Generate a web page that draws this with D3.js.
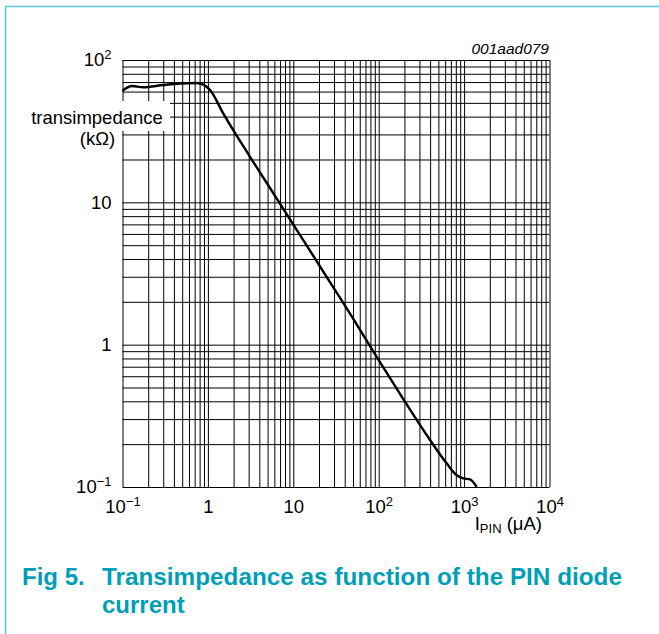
<!DOCTYPE html>
<html><head><meta charset="utf-8">
<script src="https://cdn.jsdelivr.net/npm/d3@7"></script>
<style>
body{margin:0;background:#fff}
svg{display:block}
text{font-family:"Liberation Sans",Arial,Helvetica,sans-serif}
</style>
</head><body>
<svg id="c" width="659" height="634"></svg>
<script>
// ---- data ----
const currentUA = [0.1, 0.129, 0.175, 0.3, 0.471, 0.74, 0.883, 1.06, 1.51, 3.11, 5, 9.15, 29.4, 50, 94.8, 194, 399, 625, 819, 979, 1172, 1405];
const transimpedanceKOhm = [60.8, 65.7, 64.3, 66.7, 68.4, 69, 67.2, 61.5, 42.2, 20.9, 13.4, 7.6, 2.53, 1.53, 0.82, 0.415, 0.214, 0.1466, 0.121, 0.115, 0.113, 0.1];
const xTickValues = [0.1, 1, 10, 100, 1000, 10000];
const xTickLabels = [["10", "−1"], ["1", ""], ["10", ""], ["10", "2"], ["10", "3"], ["10", "4"]];
const yTickValues = [0.1, 1, 10, 100];
const yTickLabels = [["10", "−1"], ["1", ""], ["10", ""], ["10", "2"]];
const xAxisTitle = ["I", "PIN", " (μA)"];
const yAxisTitle = ["transimpedance", "(kΩ)"];
const figCode = "001aad079";
const captionNum = "Fig 5.";
const captionLines = ["Transimpedance as function of the PIN diode", "current"];

// ---- layout ----
const svg = d3.select("#c");
const L = 122.5, R = 549.5, T = 60, B = 487;
const x = d3.scaleLog().domain([0.1, 10000]).range([L, R]);
const y = d3.scaleLog().domain([0.1, 100]).range([B, T]);

function logGrid(lo, hi) {
  const v = [];
  for (let d = Math.log10(lo); d < Math.log10(hi); d++)
    for (let m = 1; m <= 9; m++) v.push(m * Math.pow(10, d));
  v.push(hi);
  return v;
}

// frame border
svg.append("path").attr("d", "M5.5,634 V6.5 H659").attr("fill", "none")
  .attr("stroke", "#5cc7da").attr("stroke-width", 1.5);

// grids via axes
const gx = svg.append("g").attr("transform", `translate(0,${B})`)
  .call(d3.axisBottom(x).tickValues(logGrid(0.1, 10000)).tickSize(-(B - T)).tickFormat(""));
const gy = svg.append("g").attr("transform", `translate(${L},0)`)
  .call(d3.axisLeft(y).tickValues(logGrid(0.1, 100)).tickSize(-(R - L)).tickFormat(""));
[gx, gy].forEach(g => {
  g.select(".domain").remove();
  g.selectAll("line").attr("stroke", "#000").attr("stroke-width", 1);
});

// white box behind y title
svg.append("rect").attr("x", 26).attr("y", 101).attr("width", 144).attr("height", 30).attr("fill", "#fff");

// curve
const pts = currentUA.map((c, i) => [c, transimpedanceKOhm[i]]);
svg.append("path").datum(pts)
  .attr("fill", "none").attr("stroke", "#000").attr("stroke-width", 2.4)
  .attr("stroke-linejoin", "round").attr("stroke-linecap", "butt")
  .attr("d", d3.line().x(d => x(d[0])).y(d => y(d[1])).curve(d3.curveMonotoneX));

// tick label helper
function fillLabel(sel, labels) {
  sel.each(function(d, i) {
    const t = d3.select(this);
    t.text(null);
    const lab = labels[i];
    t.append("tspan").text(lab[0]);
    if (lab[1]) t.append("tspan").attr("dy", -7).attr("font-size", 13).text(lab[1]);
  });
}

const fs = 18.5;
const ax = svg.append("g").attr("transform", `translate(0,${B})`)
  .call(d3.axisBottom(x).tickValues(xTickValues).tickSize(0).tickPadding(12.5));
ax.select(".domain").remove();
ax.selectAll("text").attr("font-size", fs).attr("fill", "#000").attr("font-family", null);
fillLabel(ax.selectAll(".tick text"), xTickLabels);

const ay = svg.append("g").attr("transform", `translate(${L},0)`)
  .call(d3.axisLeft(y).tickValues(yTickValues).tickSize(0).tickPadding(11));
ay.select(".domain").remove();
ay.selectAll("text").attr("font-size", fs).attr("fill", "#000").attr("font-family", null);
fillLabel(ay.selectAll(".tick text"), yTickLabels);

// y title
svg.append("text").attr("x", 97).attr("y", 124).attr("text-anchor", "middle")
  .attr("font-size", fs).text(yAxisTitle[0]);
svg.append("text").attr("x", 97.5).attr("y", 145).attr("text-anchor", "middle")
  .attr("font-size", fs).text(yAxisTitle[1]);

// x title
const xt = svg.append("text").attr("x", 542).attr("y", 530).attr("text-anchor", "end").attr("font-size", fs);
xt.append("tspan").text(xAxisTitle[0]);
xt.append("tspan").attr("dy", 3).attr("font-size", 13).text(xAxisTitle[1]);
xt.append("tspan").attr("dy", -3).text(xAxisTitle[2]);

// figure code
svg.append("text").attr("x", 549).attr("y", 54).attr("text-anchor", "end")
  .attr("font-size", 15.5).attr("font-style", "italic").text(figCode);

// caption
const cap = "#009fb7";
svg.append("text").attr("x", 22).attr("y", 585).attr("font-size", 24).attr("font-weight", "bold")
  .attr("fill", cap).text(captionNum);
svg.append("text").attr("x", 102).attr("y", 585).attr("font-size", 24).attr("font-weight", "bold")
  .attr("fill", cap).attr("textLength", 520).attr("lengthAdjust", "spacingAndGlyphs").text(captionLines[0]);
svg.append("text").attr("x", 102).attr("y", 613).attr("font-size", 24).attr("font-weight", "bold")
  .attr("fill", cap).text(captionLines[1]);
</script>
</body></html>
